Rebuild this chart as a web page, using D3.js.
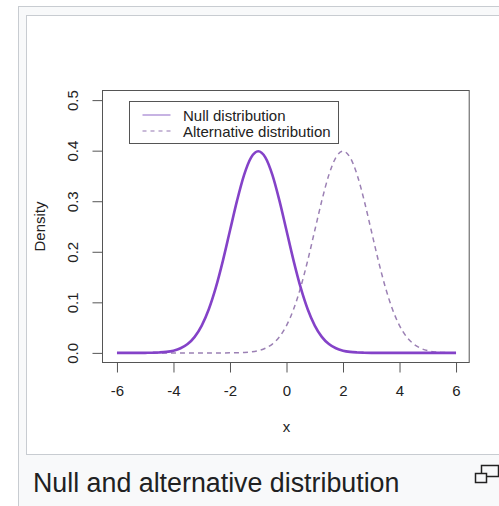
<!DOCTYPE html>
<html>
<head>
<meta charset="utf-8">
<script src="https://cdn.jsdelivr.net/npm/d3@7"></script>
<style>
  body { margin: 0; background: #fff; }
  svg { display: block; }
  .axis text { font-family: "Liberation Sans", Arial, Helvetica, sans-serif; font-size: 15px; fill: #222; }
  .axis line { stroke: #555; }
</style>
</head>
<body>
<div id="chart"></div>
<script>
// x grid the densities were read at
let xs = [-6, -5.75, -5.5, -5.25, -5, -4.75, -4.5, -4.25, -4, -3.75, -3.5, -3.25,
          -3, -2.75, -2.5, -2.25, -2, -1.75, -1.5, -1.25, -1, -0.75, -0.5, -0.25,
          0, 0.25, 0.5, 0.75, 1, 1.25, 1.5, 1.75, 2, 2.25, 2.5, 2.75,
          3, 3.25, 3.5, 3.75, 4, 4.25, 4.5, 4.75, 5, 5.25, 5.5, 5.75, 6]

// null distribution (solid), peak near x = -1
let nullDensity = [0, 0, 0, 0, 0.0001, 0.0004, 0.0009, 0.0020, 0.0044, 0.0091, 0.0175, 0.0317,
                   0.0540, 0.0863, 0.1295, 0.1826, 0.2420, 0.3011, 0.3521, 0.3867, 0.3989, 0.3867, 0.3521, 0.3011,
                   0.2420, 0.1826, 0.1295, 0.0863, 0.0540, 0.0317, 0.0175, 0.0091, 0.0044, 0.0020, 0.0009, 0.0004,
                   0.0001, 0, 0, 0, 0, 0, 0, 0, 0, 0, 0, 0, 0]

// alternative distribution (dashed), peak near x = 2
let altDensity = [0, 0, 0, 0, 0, 0, 0, 0, 0, 0, 0, 0,
                  0, 0, 0, 0, 0.0001, 0.0004, 0.0009, 0.0020, 0.0044, 0.0091, 0.0175, 0.0317,
                  0.0540, 0.0863, 0.1295, 0.1826, 0.2420, 0.3011, 0.3521, 0.3867, 0.3989, 0.3867, 0.3521, 0.3011,
                  0.2420, 0.1826, 0.1295, 0.0863, 0.0540, 0.0317, 0.0175, 0.0091, 0.0044, 0.0020, 0.0009, 0.0004, 0.0001]

let xTicks = [-6, -4, -2, 0, 2, 4, 6]
let yTicks = [0, 0.1, 0.2, 0.3, 0.4, 0.5]
let legendLabels = ["Null distribution", "Alternative distribution"]
let caption = "Null and alternative distribution"

let width = 499
let height = 506
let font = '"Liberation Sans", Arial, Helvetica, sans-serif'

let svg = d3.select("#chart")
            .append("svg")
            .attr("width", width)
            .attr("height", height)

// wikipedia thumbnail frame
svg.append("rect")
    .attr("x", 18.5).attr("y", 6.5)
    .attr("width", 500).attr("height", 510)
    .attr("fill", "#f8f9fa")
    .attr("stroke", "#c8ccd1")

svg.append("rect")
    .attr("x", 26.5).attr("y", 15.5)
    .attr("width", 490).attr("height", 439)
    .attr("fill", "#fff")
    .attr("stroke", "#c8ccd1")

// R style: axis ranges padded by 4%
let xScale = d3.scaleLinear()
    .domain([-6.48, 6.48])
    .range([103.4, 469.6])

let yScale = d3.scaleLinear()
    .domain([-0.02, 0.52])
    .range([363, 90])

let pts = function(ys) {
    return xs.map(function(x, i) { return [x, ys[i]] })
}

let line = d3.line()
    .x(function(d) { return xScale(d[0]) })
    .y(function(d) { return yScale(d[1]) })
    .curve(d3.curveMonotoneX)

svg.append("path")
    .datum(pts(altDensity))
    .attr("d", line)
    .attr("fill", "none")
    .attr("stroke", "#9b80b4")
    .attr("stroke-width", 1.5)
    .attr("stroke-dasharray", "5,4")

svg.append("path")
    .datum(pts(nullDensity))
    .attr("d", line)
    .attr("fill", "none")
    .attr("stroke", "#8442c8")
    .attr("stroke-width", 2.6)

// plot box
svg.append("rect")
    .attr("x", xScale.range()[0] - 1.4 + 0.5)
    .attr("y", 90.5)
    .attr("width", xScale.range()[1] - xScale.range()[0] + 0.5)
    .attr("height", 272)
    .attr("fill", "none")
    .attr("stroke", "#555")

// R prints a plain hyphen for negatives
let xAxis = d3.axisBottom(xScale)
    .tickValues(xTicks)
    .tickSize(10)
    .tickPadding(13)
    .tickFormat(function(d) { return String(d) })

svg.append("g")
    .attr("class", "axis")
    .attr("transform", "translate(0,362.5)")
    .call(xAxis)
    .call(function(g) { g.select(".domain").remove() })

let yAxis = d3.axisLeft(yScale)
    .tickValues(yTicks)
    .tickSize(10)
    .tickFormat(d3.format(".1f"))

svg.append("g")
    .attr("class", "axis")
    .attr("transform", "translate(102.5,0)")
    .call(yAxis)
    .call(function(g) { g.select(".domain").remove() })
    .selectAll("text")
    .attr("transform", "rotate(-90)")
    .attr("x", 0)
    .attr("y", -30)
    .attr("dy", "0.35em")
    .attr("text-anchor", "middle")

// axis titles
svg.append("text")
    .attr("x", xScale(0))
    .attr("y", 432)
    .attr("text-anchor", "middle")
    .attr("font-family", font)
    .attr("font-size", 15)
    .attr("fill", "#222")
    .text("x")

svg.append("text")
    .attr("transform", "translate(45," + yScale(0.25) + ") rotate(-90)")
    .attr("text-anchor", "middle")
    .attr("font-family", font)
    .attr("font-size", 15)
    .attr("fill", "#222")
    .text("Density")

// legend
let legend = svg.append("g").attr("transform", "translate(129.5,101.5)")

legend.append("rect")
    .attr("width", 209)
    .attr("height", 42)
    .attr("fill", "#fff")
    .attr("stroke", "#555")

legend.selectAll("line")
    .data(legendLabels)
    .enter()
    .append("line")
    .attr("x1", 13).attr("x2", 41)
    .attr("y1", function(d, i) { return 13.5 + i * 16 })
    .attr("y2", function(d, i) { return 13.5 + i * 16 })
    .attr("stroke", function(d, i) { return i == 0 ? "#a98ad4" : "#b8a4cc" })
    .attr("stroke-width", 1.3)
    .attr("stroke-dasharray", function(d, i) { return i == 0 ? null : "4,4" })

legend.selectAll("text")
    .data(legendLabels)
    .enter()
    .append("text")
    .attr("x", 53.5)
    .attr("y", function(d, i) { return 19 + i * 16 })
    .attr("font-family", font)
    .attr("font-size", 15)
    .attr("fill", "#222")
    .text(function(d) { return d })

// caption
svg.append("text")
    .attr("x", 33)
    .attr("y", 492)
    .attr("font-family", font)
    .attr("font-size", 26.8)
    .attr("fill", "#202122")
    .text(caption)

// enlarge icon
let icon = svg.append("g").attr("transform", "translate(475,465)")
icon.append("rect")
    .attr("x", 6.5).attr("y", 0.5).attr("width", 17).attr("height", 11)
    .attr("fill", "none").attr("stroke", "#222").attr("stroke-width", 1.5)
icon.append("rect")
    .attr("x", 0.5).attr("y", 8.5).attr("width", 11).attr("height", 9)
    .attr("fill", "#f8f9fa").attr("stroke", "#222").attr("stroke-width", 1.5)
</script>
</body>
</html>
